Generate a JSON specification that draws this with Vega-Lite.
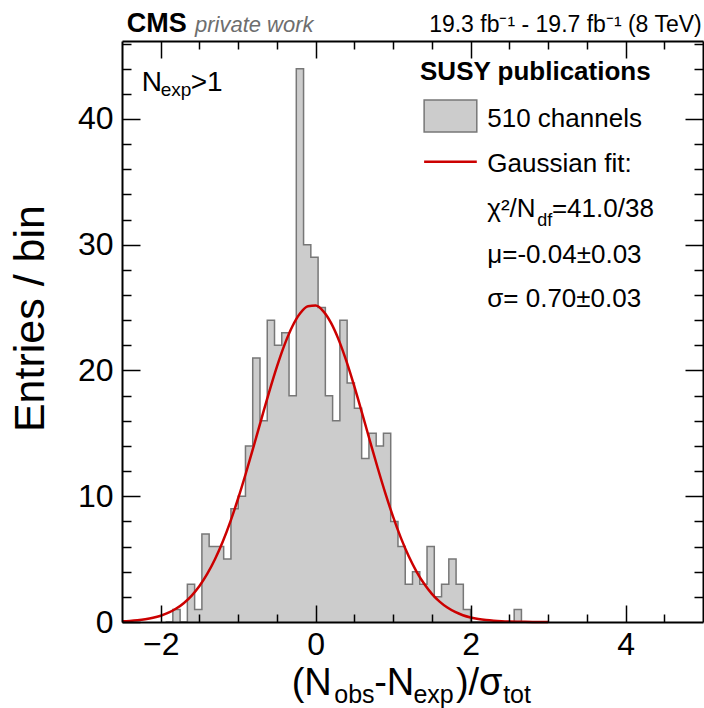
{
  "$schema": "https://vega.github.io/schema/vega-lite/v6.json",
  "width": 581,
  "height": 581,
  "autosize": {"type": "none"},
  "padding": {"left": 122, "top": 41, "right": 1, "bottom": 86},
  "background": "white",
  "config": {"view": {"stroke": null}, "font": "Liberation Sans", "text": {"font": "Liberation Sans", "color": "black"}},
  "datasets": {
    "hist": [
      {"lo": -1.9375, "hi": -1.84375, "n": 0},
      {"lo": -1.84375, "hi": -1.75, "n": 1},
      {"lo": -1.75, "hi": -1.65625, "n": 0},
      {"lo": -1.65625, "hi": -1.5625, "n": 3},
      {"lo": -1.5625, "hi": -1.46875, "n": 1},
      {"lo": -1.46875, "hi": -1.375, "n": 7},
      {"lo": -1.375, "hi": -1.28125, "n": 6},
      {"lo": -1.28125, "hi": -1.1875, "n": 6},
      {"lo": -1.1875, "hi": -1.09375, "n": 5},
      {"lo": -1.09375, "hi": -1.0, "n": 9},
      {"lo": -1.0, "hi": -0.90625, "n": 10},
      {"lo": -0.90625, "hi": -0.8125, "n": 14},
      {"lo": -0.8125, "hi": -0.71875, "n": 21},
      {"lo": -0.71875, "hi": -0.625, "n": 16},
      {"lo": -0.625, "hi": -0.53125, "n": 24},
      {"lo": -0.53125, "hi": -0.4375, "n": 22},
      {"lo": -0.4375, "hi": -0.34375, "n": 23},
      {"lo": -0.34375, "hi": -0.25, "n": 18},
      {"lo": -0.25, "hi": -0.15625, "n": 44},
      {"lo": -0.15625, "hi": -0.0625, "n": 30},
      {"lo": -0.0625, "hi": 0.03125, "n": 29},
      {"lo": 0.03125, "hi": 0.125, "n": 25},
      {"lo": 0.125, "hi": 0.21875, "n": 18},
      {"lo": 0.21875, "hi": 0.3125, "n": 16},
      {"lo": 0.3125, "hi": 0.40625, "n": 24},
      {"lo": 0.40625, "hi": 0.5, "n": 19},
      {"lo": 0.5, "hi": 0.59375, "n": 17},
      {"lo": 0.59375, "hi": 0.6875, "n": 13},
      {"lo": 0.6875, "hi": 0.78125, "n": 15},
      {"lo": 0.78125, "hi": 0.875, "n": 14},
      {"lo": 0.875, "hi": 0.96875, "n": 15},
      {"lo": 0.96875, "hi": 1.0625, "n": 8},
      {"lo": 1.0625, "hi": 1.15625, "n": 6},
      {"lo": 1.15625, "hi": 1.25, "n": 3},
      {"lo": 1.25, "hi": 1.34375, "n": 4},
      {"lo": 1.34375, "hi": 1.4375, "n": 3},
      {"lo": 1.4375, "hi": 1.53125, "n": 6},
      {"lo": 1.53125, "hi": 1.625, "n": 2},
      {"lo": 1.625, "hi": 1.71875, "n": 3},
      {"lo": 1.71875, "hi": 1.8125, "n": 5},
      {"lo": 1.8125, "hi": 1.90625, "n": 3},
      {"lo": 1.90625, "hi": 2.0, "n": 1},
      {"lo": 2.0, "hi": 2.09375, "n": 0},
      {"lo": 2.09375, "hi": 2.1875, "n": 0},
      {"lo": 2.1875, "hi": 2.28125, "n": 0},
      {"lo": 2.28125, "hi": 2.375, "n": 0},
      {"lo": 2.375, "hi": 2.46875, "n": 0},
      {"lo": 2.46875, "hi": 2.5625, "n": 0},
      {"lo": 2.5625, "hi": 2.65625, "n": 1},
      {"lo": 2.65625, "hi": 2.75, "n": 0}
    ],
    "fit": [
      {"x": -2.5, "f": 0.0525}, {"x": -2.4, "f": 0.0858}, {"x": -2.3, "f": 0.1374}, {"x": -2.2, "f": 0.2158},
      {"x": -2.1, "f": 0.3319}, {"x": -2.0, "f": 0.5000}, {"x": -1.9, "f": 0.7383}, {"x": -1.8, "f": 1.0683},
      {"x": -1.7, "f": 1.5146}, {"x": -1.6, "f": 2.1030}, {"x": -1.5, "f": 2.862}, {"x": -1.4, "f": 3.8175},
      {"x": -1.3, "f": 4.987}, {"x": -1.2, "f": 6.384}, {"x": -1.1, "f": 8.007}, {"x": -1.0, "f": 9.840},
      {"x": -0.9, "f": 11.848}, {"x": -0.8, "f": 13.977}, {"x": -0.7, "f": 16.157}, {"x": -0.6, "f": 18.299},
      {"x": -0.5, "f": 20.305}, {"x": -0.4, "f": 22.078}, {"x": -0.3, "f": 23.520}, {"x": -0.2, "f": 24.550},
      {"x": -0.1, "f": 25.108}, {"x": 0.0, "f": 25.159}, {"x": 0.1, "f": 24.701}, {"x": 0.2, "f": 23.761},
      {"x": 0.3, "f": 22.396}, {"x": 0.4, "f": 20.683}, {"x": 0.5, "f": 18.716}, {"x": 0.6, "f": 16.592},
      {"x": 0.7, "f": 14.413}, {"x": 0.8, "f": 12.266}, {"x": 0.9, "f": 10.229}, {"x": 1.0, "f": 8.358},
      {"x": 1.1, "f": 6.691}, {"x": 1.2, "f": 5.248}, {"x": 1.3, "f": 4.034}, {"x": 1.4, "f": 3.038},
      {"x": 1.5, "f": 2.241}, {"x": 1.6, "f": 1.620}, {"x": 1.7, "f": 1.147}, {"x": 1.8, "f": 0.796},
      {"x": 1.9, "f": 0.541}, {"x": 2.0, "f": 0.361}, {"x": 2.1, "f": 0.2354}, {"x": 2.2, "f": 0.1506},
      {"x": 2.3, "f": 0.0944}, {"x": 2.4, "f": 0.0579}, {"x": 2.5, "f": 0.0349}, {"x": 2.6, "f": 0.0205},
      {"x": 2.7, "f": 0.0119}, {"x": 2.8, "f": 0.0067}, {"x": 2.9, "f": 0.0037}, {"x": 3.0, "f": 0.0020}
    ],
    "legbox": [{"x1": 1.40, "x2": 2.08, "y1": 38.96, "y2": 41.51}],
    "legline": [{"x1": 1.40, "x2": 2.08, "y": 36.6}],
    "legtitle": [{"x": 1.347, "y": 43.1, "t": "SUSY publications"}],
    "legtext": [
      {"x": 2.215, "y": 39.36, "t": "510 channels"},
      {"x": 2.215, "y": 35.78, "t": "Gaussian fit:"},
      {"x": 2.215, "y": 32.23, "t": "χ²/N"},
      {"x": 3.05, "y": 32.23, "t": "=41.0/38"},
      {"x": 2.215, "y": 28.52, "t": "μ=-0.04±0.03"},
      {"x": 2.215, "y": 25.07, "t": "σ= 0.70±0.03"}
    ],
    "legsub": [{"x": 2.861, "y": 31.5, "t": "df"}],
    "nexp": [{"x": -2.246, "y": 42.25, "t": "N"}, {"x": -1.613, "y": 42.25, "t": ">1"}],
    "nexpsub": [{"x": -2.0, "y": 41.8, "t": "exp"}],
    "cms": [{"x": -2.44, "y": 46.91, "t": "CMS"}],
    "priv": [{"x": -1.558, "y": 46.91, "t": "private work"}],
    "lumi": [{"x": 4.983, "y": 46.91, "t": "19.3 fb⁻¹ - 19.7 fb⁻¹ (8 TeV)"}],
    "xtitle": [
      {"x": -0.310, "y": -5.78, "t": "(N"},
      {"x": 0.755, "y": -5.78, "t": "-N"},
      {"x": 1.810, "y": -5.78, "t": ")/σ"}
    ],
    "xtitlesub": [
      {"x": 0.240, "y": -6.45, "t": "obs"},
      {"x": 1.262, "y": -6.45, "t": "exp"},
      {"x": 2.420, "y": -6.45, "t": "tot"}
    ],
    "ytitle": [{"x": -3.507, "y": 24.13, "t": "Entries / bin"}]
  },
  "resolve": {"axis": {"x": "independent", "y": "independent"}},
  "layer": [
    {
      "data": {"name": "hist"},
      "mark": {"type": "area", "interpolate": "step-after", "fill": "#cccccc"},
      "encoding": {
        "x": {"field": "lo", "type": "quantitative",
          "scale": {"domain": [-2.5, 5], "nice": false, "zero": false},
          "axis": {"orient": "bottom", "title": null, "grid": false, "zindex": 1,
            "values": [-2, -1.5, -1, -0.5, 0, 0.5, 1, 1.5, 2, 2.5, 3, 3.5, 4, 4.5],
            "tickSize": {"condition": {"test": "datum.value % 2 === 0", "value": -17}, "value": -8},
            "labelExpr": "datum.value % 2 === 0 ? format(datum.value, 'd') : ''",
            "labelFontSize": 32, "labelFont": "Liberation Sans", "labelColor": "black", "labelPadding": 24,
            "labelFlush": false, "labelOverlap": false, "labelBound": false,
            "domainColor": "black", "domainWidth": 2, "tickColor": "black", "tickWidth": 1.5}},
        "y": {"field": "n", "type": "quantitative",
          "scale": {"domain": [0, 46.2], "nice": false, "zero": true},
          "axis": {"orient": "left", "title": null, "grid": false, "zindex": 1,
            "values": [0, 2, 4, 6, 8, 10, 12, 14, 16, 18, 20, 22, 24, 26, 28, 30, 32, 34, 36, 38, 40, 42, 44, 46],
            "tickSize": {"condition": {"test": "datum.value % 10 === 0", "value": -18}, "value": -9},
            "labelExpr": "datum.value % 10 === 0 ? format(datum.value, 'd') : ''",
            "labelFontSize": 32, "labelFont": "Liberation Sans", "labelColor": "black", "labelPadding": 27,
            "labelFlush": false, "labelOverlap": false, "labelBound": false,
            "domainColor": "black", "domainWidth": 2, "tickColor": "black", "tickWidth": 1.5}},
        "y2": {"datum": 0}
      }
    },
    {
      "data": {"name": "hist"},
      "mark": {"type": "line", "interpolate": "step-after", "stroke": "#777777", "strokeWidth": 1.5},
      "encoding": {
        "x": {"field": "lo", "type": "quantitative", "axis": null},
        "y": {"field": "n", "type": "quantitative", "axis": null}
      }
    },
    {
      "data": {"name": "fit"},
      "mark": {"type": "line", "interpolate": "monotone", "stroke": "#cc0000", "strokeWidth": 2.5},
      "encoding": {
        "x": {"field": "x", "type": "quantitative",
          "axis": {"orient": "top", "title": null, "grid": false, "zindex": 1, "labels": false,
            "values": [-2, -1.5, -1, -0.5, 0, 0.5, 1, 1.5, 2, 2.5, 3, 3.5, 4, 4.5],
            "tickSize": {"condition": {"test": "datum.value % 2 === 0", "value": -17}, "value": -8},
            "domainColor": "black", "domainWidth": 2, "tickColor": "black", "tickWidth": 1.5}},
        "y": {"field": "f", "type": "quantitative",
          "axis": {"orient": "right", "title": null, "grid": false, "zindex": 1, "labels": false,
            "values": [2, 4, 6, 8, 10, 12, 14, 16, 18, 20, 22, 24, 26, 28, 30, 32, 34, 36, 38, 40, 42, 44, 46],
            "tickSize": {"condition": {"test": "datum.value % 10 === 0", "value": -18}, "value": -9},
            "domainColor": "black", "domainWidth": 2, "tickColor": "black", "tickWidth": 1.5}}
      }
    },
    {
      "data": {"name": "legbox"},
      "mark": {"type": "rect", "fill": "#cccccc", "stroke": "#777777", "strokeWidth": 1.5},
      "encoding": {
        "x": {"field": "x1", "type": "quantitative", "axis": null},
        "x2": {"field": "x2"},
        "y": {"field": "y1", "type": "quantitative", "axis": null},
        "y2": {"field": "y2"}
      }
    },
    {
      "data": {"name": "legline"},
      "mark": {"type": "rule", "stroke": "#cc0000", "strokeWidth": 2.5},
      "encoding": {
        "x": {"field": "x1", "type": "quantitative", "axis": null},
        "x2": {"field": "x2"},
        "y": {"field": "y", "type": "quantitative", "axis": null}
      }
    },
    {
      "data": {"name": "legtitle"},
      "mark": {"type": "text", "align": "left", "baseline": "alphabetic", "fontSize": 26, "fontWeight": "bold"},
      "encoding": {"x": {"field": "x", "type": "quantitative", "axis": null}, "y": {"field": "y", "type": "quantitative", "axis": null}, "text": {"field": "t"}}
    },
    {
      "data": {"name": "legtext"},
      "mark": {"type": "text", "align": "left", "baseline": "alphabetic", "fontSize": 26},
      "encoding": {"x": {"field": "x", "type": "quantitative", "axis": null}, "y": {"field": "y", "type": "quantitative", "axis": null}, "text": {"field": "t"}}
    },
    {
      "data": {"name": "legsub"},
      "mark": {"type": "text", "align": "left", "baseline": "alphabetic", "fontSize": 18},
      "encoding": {"x": {"field": "x", "type": "quantitative", "axis": null}, "y": {"field": "y", "type": "quantitative", "axis": null}, "text": {"field": "t"}}
    },
    {
      "data": {"name": "nexp"},
      "mark": {"type": "text", "align": "left", "baseline": "alphabetic", "fontSize": 28},
      "encoding": {"x": {"field": "x", "type": "quantitative", "axis": null}, "y": {"field": "y", "type": "quantitative", "axis": null}, "text": {"field": "t"}}
    },
    {
      "data": {"name": "nexpsub"},
      "mark": {"type": "text", "align": "left", "baseline": "alphabetic", "fontSize": 19},
      "encoding": {"x": {"field": "x", "type": "quantitative", "axis": null}, "y": {"field": "y", "type": "quantitative", "axis": null}, "text": {"field": "t"}}
    },
    {
      "data": {"name": "cms"},
      "mark": {"type": "text", "align": "left", "baseline": "alphabetic", "fontSize": 27, "fontWeight": "bold"},
      "encoding": {"x": {"field": "x", "type": "quantitative", "axis": null}, "y": {"field": "y", "type": "quantitative", "axis": null}, "text": {"field": "t"}}
    },
    {
      "data": {"name": "priv"},
      "mark": {"type": "text", "align": "left", "baseline": "alphabetic", "fontSize": 22, "fontStyle": "italic", "color": "#6e6e6e"},
      "encoding": {"x": {"field": "x", "type": "quantitative", "axis": null}, "y": {"field": "y", "type": "quantitative", "axis": null}, "text": {"field": "t"}}
    },
    {
      "data": {"name": "lumi"},
      "mark": {"type": "text", "align": "right", "baseline": "alphabetic", "fontSize": 23},
      "encoding": {"x": {"field": "x", "type": "quantitative", "axis": null}, "y": {"field": "y", "type": "quantitative", "axis": null}, "text": {"field": "t"}}
    },
    {
      "data": {"name": "xtitle"},
      "mark": {"type": "text", "align": "left", "baseline": "alphabetic", "fontSize": 38},
      "encoding": {"x": {"field": "x", "type": "quantitative", "axis": null}, "y": {"field": "y", "type": "quantitative", "axis": null}, "text": {"field": "t"}}
    },
    {
      "data": {"name": "xtitlesub"},
      "mark": {"type": "text", "align": "left", "baseline": "alphabetic", "fontSize": 25},
      "encoding": {"x": {"field": "x", "type": "quantitative", "axis": null}, "y": {"field": "y", "type": "quantitative", "axis": null}, "text": {"field": "t"}}
    },
    {
      "data": {"name": "ytitle"},
      "mark": {"type": "text", "align": "center", "baseline": "alphabetic", "fontSize": 43, "angle": 270},
      "encoding": {"x": {"field": "x", "type": "quantitative", "axis": null}, "y": {"field": "y", "type": "quantitative", "axis": null}, "text": {"field": "t"}}
    }
  ]
}
